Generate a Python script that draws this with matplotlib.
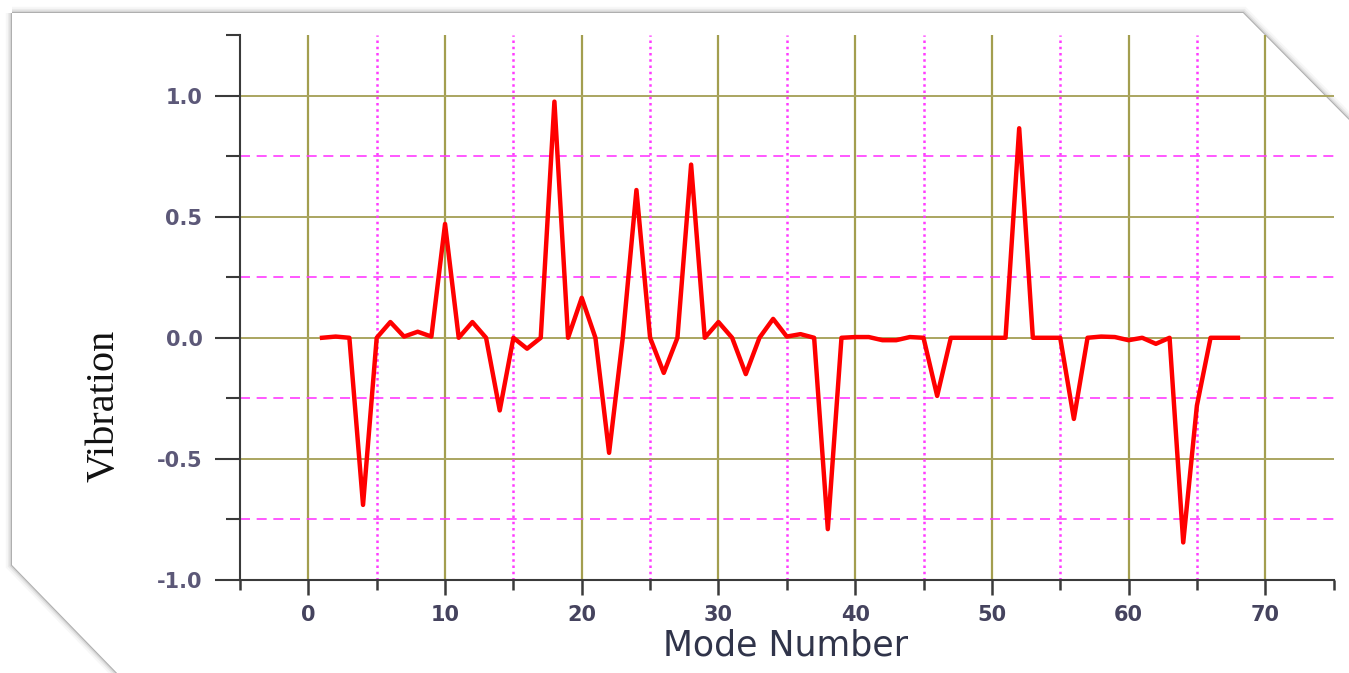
import matplotlib
matplotlib.use("Agg")
import matplotlib.pyplot as plt
from matplotlib.patches import Polygon

# 数据
mode = list(range(1, 69))
vib = [0.0, 0.005, 0.0, -0.69, 0.0, 0.065, 0.005, 0.025, 0.005, 0.47,
       0.0, 0.065, 0.0, -0.30, 0.0, -0.045, 0.0, 0.975, 0.0, 0.165,
       0.0, -0.475, 0.0, 0.61, 0.0, -0.145, 0.0, 0.715, 0.0, 0.065,
       0.0, -0.15, 0.0, 0.078, 0.005, 0.015, 0.0, -0.79, 0.0, 0.003,
       0.003, -0.01, -0.01, 0.003, 0.0, -0.24, 0.0, 0.0, 0.0, 0.0,
       0.0, 0.865, 0.0, 0.0, 0.0, -0.335, 0.0, 0.005, 0.003, -0.01,
       0.0, -0.025, 0.0, -0.845, -0.28, 0.0, 0.0, 0.0]

x_major = [0, 10, 20, 30, 40, 50, 60, 70]
x_minor = [-5, 5, 15, 25, 35, 45, 55, 65, 75]
y_major = [-1.0, -0.5, 0.0, 0.5, 1.0]
y_minor = [-0.75, -0.25, 0.25, 0.75, 1.25]

W, H = 1349, 673
fig = plt.figure(figsize=(W / 100, H / 100), dpi=100)
fig.patch.set_facecolor("white")

# 页面卷角边框 (放在坐标轴下面)
frame = [(12, 13), (1243, 13), (1349, 120), (1352, 676), (120, 676), (12, 565)]
pts = [(x / W, 1 - y / H) for x, y in frame]
for lw, a in [(9, 0.06), (6, 0.10), (3.5, 0.18), (1.5, 0.45)]:
    fig.add_artist(Polygon(pts, closed=True, transform=fig.transFigure,
                           facecolor="none", edgecolor="#808080", lw=lw,
                           alpha=a, zorder=-3))
fig.add_artist(Polygon(pts, closed=True, transform=fig.transFigure,
                       facecolor="white", edgecolor="none", zorder=-2))

left, right, bottom, top = 240, 1333.6, 580, 35
ax = fig.add_axes([left / W, 1 - bottom / H, (right - left) / W, (bottom - top) / H])
ax.set_facecolor("none")
ax.set_xlim(-5, 75)
ax.set_ylim(-1.0, 1.25)

# 网格
olive = "#a39e4f"
for xv in x_major:
    ax.axvline(xv, color=olive, lw=1.6, zorder=1)
for yv in y_major[1:]:
    ax.axhline(yv, color="#aaa560", lw=1.4, zorder=1)
for xv in x_minor[1:-1]:
    ax.axvline(xv, color="#ff3cff", lw=1.8, ls=(0, (1.0, 1.5)), zorder=1)
for yv in y_minor[:-1]:
    ax.axhline(yv, color="#ff3cff", lw=1.2, ls=(0, (6, 4)), zorder=1)

ax.plot(mode, vib, color="#ff0000", lw=3.2, zorder=5)

# 坐标轴
for s in ["top", "right"]:
    ax.spines[s].set_visible(False)
for s in ["left", "bottom"]:
    ax.spines[s].set_color("#3a3a3a")
    ax.spines[s].set_linewidth(1.5)

ax.set_xticks(x_major)
ax.set_xticks(x_minor, minor=True)
ax.set_yticks(y_major)
ax.set_yticks(y_minor, minor=True)
ax.set_yticklabels(["-1.0", "-0.5", "0.0", "0.5", "1.0"])
ax.tick_params(axis="x", which="major", length=11, width=1.8, color="#3a3a3a",
               pad=7, labelsize=15, labelcolor="#45435e")
ax.tick_params(axis="x", which="minor", length=7, width=1.8, color="#3a3a3a")
ax.tick_params(axis="y", which="major", length=18, width=1.5, color="#3a3a3a",
               pad=9, labelsize=15, labelcolor="#5c5878")
ax.tick_params(axis="y", which="minor", length=10, width=1.5, color="#3a3a3a")
for lab in ax.get_xticklabels() + ax.get_yticklabels():
    lab.set_fontfamily("DejaVu Sans")
    lab.set_fontweight("bold")

fig.text(786 / W, 1 - 646 / H, "Mode Number", ha="center", va="center",
         fontsize=25, color="#30344a", family="DejaVu Sans")
fig.text(104 / W, 1 - 406 / H, "Vibration", ha="center", va="center",
         rotation=90, fontsize=29, color="#111111", family="Liberation Serif")

fig.savefig("out.png", dpi=100)
